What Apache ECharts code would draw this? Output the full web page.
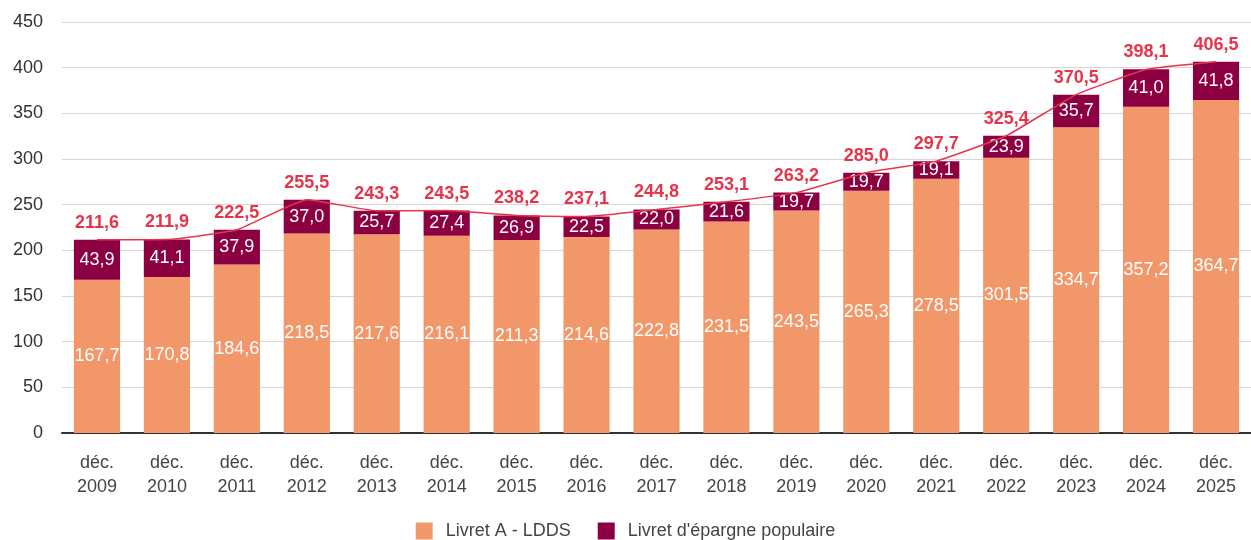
<!DOCTYPE html>
<html>
<head>
<meta charset="utf-8">
<script src="https://cdn.jsdelivr.net/npm/echarts@6/dist/echarts.min.js"></script>
<style>
  html, body { margin: 0; padding: 0; background: #fff; }
  #chart { width: 1251px; height: 540px; }
</style>
</head>
<body>
<div id="chart"></div>
<script>
// données (en milliards d'euros)
const categories = ['déc.\n2009', 'déc.\n2010', 'déc.\n2011', 'déc.\n2012', 'déc.\n2013', 'déc.\n2014',
  'déc.\n2015', 'déc.\n2016', 'déc.\n2017', 'déc.\n2018', 'déc.\n2019', 'déc.\n2020', 'déc.\n2021',
  'déc.\n2022', 'déc.\n2023', 'déc.\n2024', 'déc.\n2025']
const livretA = [167.7, 170.8, 184.6, 218.5, 217.6, 216.1, 211.3, 214.6, 222.8, 231.5, 243.5, 265.3, 278.5, 301.5, 334.7, 357.2, 364.7]
const lep = [43.9, 41.1, 37.9, 37.0, 25.7, 27.4, 26.9, 22.5, 22.0, 21.6, 19.7, 19.7, 19.1, 23.9, 35.7, 41.0, 41.8]
const totals = [211.6, 211.9, 222.5, 255.5, 243.3, 243.5, 238.2, 237.1, 244.8, 253.1, 263.2, 285.0, 297.7, 325.4, 370.5, 398.1, 406.5]
const yTicks = [0, 50, 100, 150, 200, 250, 300, 350, 400, 450]

const fmt = (v) => v.toFixed(1).replace('.', ',')
const font = '"Liberation Sans", Arial, Helvetica, sans-serif'

const myChart = echarts.init(document.getElementById('chart'))

const option = {
  textStyle: { fontFamily: font },
  animation: false,
  grid: { left: 62, right: 0, top: 22, bottom: 107, containLabel: false },
  legend: {
    bottom: -5,
    left: 'center',
    itemWidth: 17,
    itemHeight: 17,
    itemGap: 27,
    icon: 'rect',
    textStyle: { color: '#444', fontSize: 18, fontFamily: font, padding: [0, 0, 0, 8] },
    data: ['Livret A - LDDS', "Livret d'épargne populaire"]
  },
  xAxis: {
    type: 'category',
    data: categories,
    axisTick: { show: false },
    axisLine: { lineStyle: { color: '#333', width: 2 } },
    axisLabel: { color: '#444', fontSize: 18, lineHeight: 24, margin: 18, fontFamily: font }
  },
  yAxis: {
    type: 'value',
    min: yTicks[0],
    max: yTicks[yTicks.length - 1],
    interval: 50,
    axisLine: { show: false },
    axisTick: { show: false },
    splitLine: { lineStyle: { color: '#d6d6d6', width: 1 } },
    axisLabel: { color: '#333', fontSize: 18, margin: 19, fontFamily: font }
  },
  series: [
    {
      name: 'Livret A - LDDS',
      type: 'bar',
      stack: 'total',
      barWidth: '66%',
      itemStyle: { color: '#F2976A' },
      label: {
        show: true,
        position: 'inside',
        color: '#fff',
        fontSize: 18,
        fontFamily: font,
        formatter: (p) => fmt(p.value)
      },
      data: livretA
    },
    {
      name: "Livret d'épargne populaire",
      type: 'bar',
      stack: 'total',
      itemStyle: { color: '#8C0041' },
      label: {
        show: true,
        position: 'inside',
        color: '#fff',
        fontSize: 18,
        fontFamily: font,
        formatter: (p) => fmt(p.value)
      },
      data: lep
    },
    {
      name: 'Total',
      type: 'line',
      smooth: 0.12,
      symbol: 'circle',
      symbolSize: 2,
      itemStyle: { color: 'rgba(232,52,74,0)', borderWidth: 0 },
      lineStyle: { color: '#E8344A', width: 1.5 },
      label: {
        show: true,
        position: 'top',
        distance: 7,
        color: '#E8344A',
        fontWeight: 'bold',
        fontSize: 18,
        fontFamily: font,
        formatter: (p) => fmt(p.value)
      },
      z: 5,
      data: totals
    }
  ]
}

myChart.setOption(option)
window.addEventListener('resize', () => { myChart.resize() })
</script>
</body>
</html>
